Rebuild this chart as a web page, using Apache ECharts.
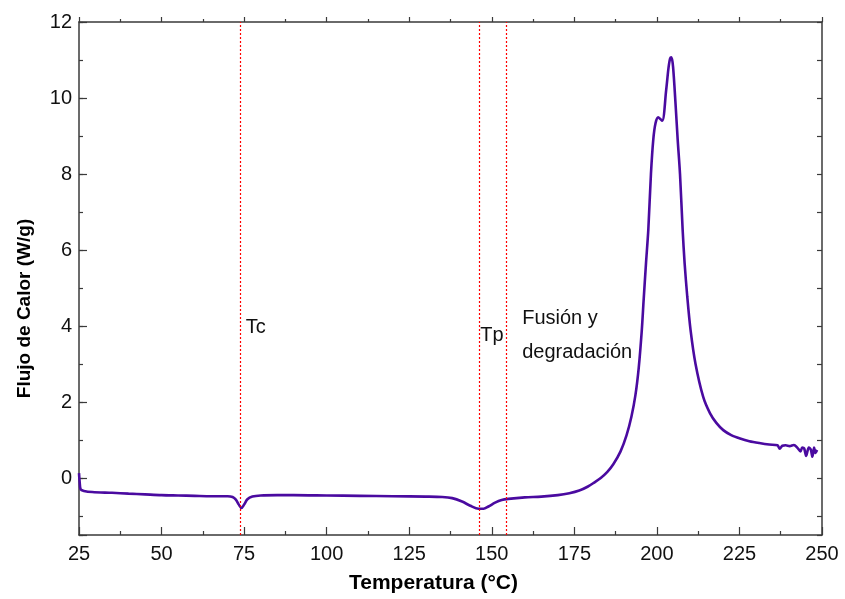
<!DOCTYPE html>
<html>
<head>
<meta charset="utf-8">
<script src="https://cdn.jsdelivr.net/npm/echarts@6/dist/echarts.min.js"></script>
<style>
  html, body { margin: 0; padding: 0; background: #ffffff; }
  #chart { width: 845px; height: 599px; }
</style>
</head>
<body>
<div id="chart"></div>
<script>
// ---- data ----
var temperature = [
  25.0, 25.2, 25.5, 26.5, 29, 35, 40, 45, 50, 55, 60, 65, 70,
  71.5, 72.5, 73.4, 74.2, 75.0, 76.0, 77.5, 80, 85, 90, 100, 110, 120, 130,
  135, 138, 141, 143.5, 146, 147.5, 149, 151, 153, 155, 160, 165, 170,
  173.5, 176.5, 179, 181, 183, 185, 186.8, 189, 190.8, 192.3, 193.5, 194.5,
  195.4, 196.0, 196.7, 197.4, 198.2, 198.9, 199.6, 200.4, 201.6, 202.8,
  203.5, 204.0, 204.4, 204.9, 205.7, 206.3, 207.0, 207.8, 208.4, 209.2, 210.2,
  211.7, 214.0, 216.1, 218, 220.1, 222.5, 225.2, 228, 231, 234, 236.5,
  237.2, 238, 239, 240.2, 241.5, 242.5, 243.5, 244, 244.6, 245.2, 246,
  246.6, 247.1, 247.6, 248, 248.5
];
var heatFlow = [
  0.13, -0.10, -0.30, -0.34, -0.37, -0.39, -0.41, -0.43, -0.45, -0.46, -0.47, -0.48, -0.48,
  -0.50, -0.57, -0.70, -0.79, -0.70, -0.56, -0.49, -0.46, -0.45, -0.45, -0.46, -0.47, -0.48, -0.49,
  -0.50, -0.53, -0.62, -0.73, -0.81, -0.81, -0.75, -0.65, -0.58, -0.55, -0.51, -0.49, -0.45,
  -0.40, -0.33, -0.23, -0.12, 0.00, 0.16, 0.36, 0.70, 1.12, 1.62, 2.18, 2.90,
  3.85, 4.70, 5.65, 6.53, 8.0, 8.9, 9.34, 9.49, 9.40, 10.2,
  10.78, 11.04, 11.07, 10.82, 9.77, 8.9, 8.0, 6.53, 5.65, 4.77, 3.89,
  3.0, 2.14, 1.70, 1.45, 1.26, 1.13, 1.04, 0.97, 0.92, 0.88, 0.86,
  0.77, 0.85, 0.86, 0.84, 0.87, 0.80, 0.70, 0.80, 0.78, 0.58, 0.80,
  0.75, 0.56, 0.80, 0.66, 0.74
];
// vertical marker lines (°C)
var markerTemps = [73.8, 146.2, 154.5];
// annotation texts and their anchor (data coordinates, left / middle of text)
var annotationText = ['Tc', 'Tp', 'Fusión y\ndegradación'];
var annotationX = [75.5, 146.5, 159.2];
var annotationY = [3.97, 3.75, 3.76];

var xTitle = 'Temperatura (°C)';
var yTitle = 'Flujo de Calor (W/g)';

// ---- chart ----
var chart = echarts.init(document.getElementById('chart'), null, { renderer: 'canvas' });

var seriesData = temperature.map(function (t, i) { return [t, heatFlow[i]]; });
var axisColor = '#3a3a3a';
var labelFont = { fontFamily: 'Liberation Sans', fontSize: 20, color: '#111' };

var markPointData = annotationText.map(function (txt, i) {
  return {
    coord: [annotationX[i], annotationY[i]],
    label: {
      show: true,
      formatter: txt,
      position: [0, 0],
      align: 'left',
      verticalAlign: 'middle',
      fontFamily: 'Liberation Sans',
      fontSize: 20,
      lineHeight: 34,
      color: '#111'
    }
  };
});

var option = {
  animation: false,
  backgroundColor: '#ffffff',
  grid: { left: 79, right: 23, top: 22, bottom: 64, containLabel: false },
  xAxis: [
    {
      type: 'value', position: 'bottom', min: 25, max: 250, interval: 25,
      axisLine: { show: true, onZero: false, lineStyle: { color: axisColor, width: 1.5 } },
      axisTick: { show: true, inside: true, length: 8, lineStyle: { color: axisColor, width: 1.2 } },
      minorTick: { show: true, splitNumber: 2, length: 4, lineStyle: { color: axisColor, width: 1.2 } },
      axisLabel: Object.assign({ margin: 9 }, labelFont),
      splitLine: { show: false },
      name: xTitle, nameLocation: 'middle', nameGap: 38,
      nameTextStyle: { fontFamily: 'Liberation Sans', fontWeight: 'bold', fontSize: 21, color: '#000', padding: [0, 34, 0, 0] }
    },
    {
      type: 'value', position: 'top', min: 25, max: 250, interval: 25,
      axisLine: { show: true, onZero: false, lineStyle: { color: axisColor, width: 1.5 } },
      axisTick: { show: true, inside: false, length: 5, lineStyle: { color: axisColor, width: 1.2 } },
      minorTick: { show: true, splitNumber: 2, length: 3, lineStyle: { color: axisColor, width: 1.2 } },
      axisLabel: { show: false },
      splitLine: { show: false }
    }
  ],
  yAxis: [
    {
      type: 'value', position: 'left', min: -1.5, max: 12, minInterval: 2, maxInterval: 2,
      axisLine: { show: true, onZero: false, lineStyle: { color: axisColor, width: 1.5 } },
      axisTick: { show: true, inside: true, length: 8, lineStyle: { color: axisColor, width: 1.2 } },
      axisLabel: Object.assign({
        margin: 7,
        formatter: function (v) { return (Math.abs(v % 2) < 1e-9) ? String(v) : ''; }
      }, labelFont),
      splitLine: { show: false },
      name: yTitle, nameLocation: 'middle', nameGap: 45, nameRotate: 90,
      nameTextStyle: { fontFamily: 'Liberation Sans', fontWeight: 'bold', fontSize: 19, color: '#000', padding: [0, 60, 0, 0] }
    },
    {
      type: 'value', position: 'left', min: -1.5, max: 12, minInterval: 1, maxInterval: 1,
      axisLine: { show: false, onZero: false },
      axisTick: { show: true, inside: true, length: 4, lineStyle: { color: axisColor, width: 1.2 } },
      axisLabel: { show: false },
      splitLine: { show: false }
    },
    {
      type: 'value', position: 'right', min: -1.5, max: 12, minInterval: 1, maxInterval: 1,
      axisLine: { show: true, onZero: false, lineStyle: { color: axisColor, width: 1.5 } },
      axisTick: { show: true, inside: true, length: 5, lineStyle: { color: axisColor, width: 1.2 } },
      axisLabel: { show: false },
      splitLine: { show: false }
    }
  ],
  series: [
    {
      type: 'line',
      xAxisIndex: 0,
      yAxisIndex: 0,
      data: seriesData,
      smooth: 0.3,
      showSymbol: false,
      symbol: 'none',
      lineStyle: { color: '#4a0aa0', width: 2.6 },
      z: 3,
      markLine: {
        silent: true,
        symbol: ['none', 'none'],
        label: { show: false },
        lineStyle: { color: '#ff0000', type: [2, 2], width: 1.2, opacity: 1 },
        emphasis: { disabled: true },
        data: markerTemps.map(function (t) {
          return { xAxis: t, lineStyle: { color: '#ff0000', type: [2, 2], width: 1.2 } };
        })
      },
      markPoint: {
        silent: true,
        symbol: 'circle',
        symbolSize: 0,
        itemStyle: { color: 'rgba(0,0,0,0)' },
        data: markPointData
      }
    }
  ]
};

chart.setOption(option);
</script>
</body>
</html>
